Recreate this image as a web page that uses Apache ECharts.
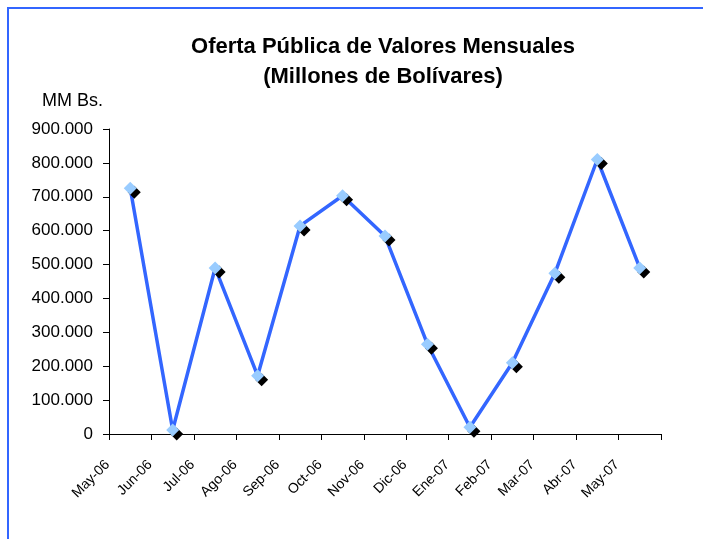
<!DOCTYPE html>
<html>
<head>
<meta charset="utf-8">
<script src="https://cdn.jsdelivr.net/npm/echarts@6/dist/echarts.min.js"></script>
<style>
  html, body { margin: 0; padding: 0; background: #fff; }
  #wrap { position: relative; width: 703px; height: 539px; overflow: hidden; }
  #frame { position: absolute; left: 7px; top: 7px; right: -5px; bottom: -5px;
           border-left: 2px solid #3366ff; border-top: 2px solid #3366ff; }
  #chart { position: absolute; left: 0; top: 0; width: 703px; height: 539px; }
</style>
</head>
<body>
<div id="wrap">
  <div id="frame"></div>
  <div id="chart"></div>
</div>
<script>
var meses = ['May-06', 'Jun-06', 'Jul-06', 'Ago-06', 'Sep-06', 'Oct-06', 'Nov-06',
             'Dic-06', 'Ene-07', 'Feb-07', 'Mar-07', 'Abr-07', 'May-07'];
var oferta = [725000, 12000, 490000, 172000, 614000, 703000, 584000,
              265000, 20000, 210000, 474000, 810000, 490000];

function miles(v) {
    return String(v).replace(/\B(?=(\d{3})+(?!\d))/g, '.');
}

var myChart = echarts.init(document.getElementById('chart'));
myChart.setOption({
    animation: false,
    title: {
        text: 'Oferta Pública de Valores Mensuales\n(Millones de Bolívares)',
        left: 383,
        top: 32,
        padding: 0,
        textAlign: 'center',
        textStyle: {
            fontFamily: 'Arial, "Liberation Sans", sans-serif',
            fontSize: 22,
            fontWeight: 'bold',
            color: '#000',
            lineHeight: 30
        }
    },
    grid: {
        left: 109,
        right: 42,
        top: 129,
        bottom: 105
    },
    xAxis: {
        type: 'category',
        data: meses,
        axisLine: { show: true, lineStyle: { color: '#000', width: 1 } },
        axisTick: { show: true, interval: 0, length: 6, lineStyle: { color: '#000' } },
        axisLabel: {
            interval: 0,
            rotate: 45,
            margin: 6,
            padding: [0, 32, 0, 0],
            color: '#000',
            fontSize: 14,
            fontFamily: 'Arial, "Liberation Sans", sans-serif'
        }
    },
    yAxis: {
        type: 'value',
        name: 'MM Bs.',
        nameLocation: 'end',
        nameGap: 19,
        nameTextStyle: {
            align: 'right',
            padding: [0, 6, 0, 0],
            color: '#000',
            fontSize: 18,
            fontFamily: 'Arial, "Liberation Sans", sans-serif'
        },
        min: 0,
        max: 900000,
        interval: 100000,
        splitLine: { show: false },
        axisLine: { show: true, lineStyle: { color: '#000', width: 1 } },
        axisTick: { show: true, length: 6, lineStyle: { color: '#000' } },
        axisLabel: {
            formatter: miles,
            margin: 16,
            color: '#000',
            fontSize: 17,
            fontFamily: 'Arial, "Liberation Sans", sans-serif'
        }
    },
    series: [{
        name: 'Oferta',
        type: 'line',
        data: oferta,
        symbol: 'diamond',
        symbolSize: 13,
        lineStyle: { color: '#3366ff', width: 3.5 },
        itemStyle: {
            color: '#99ccff',
            borderWidth: 0,
            shadowColor: '#000',
            shadowBlur: 0,
            shadowOffsetX: 4,
            shadowOffsetY: 4
        }
    }]
});
</script>
</body>
</html>
